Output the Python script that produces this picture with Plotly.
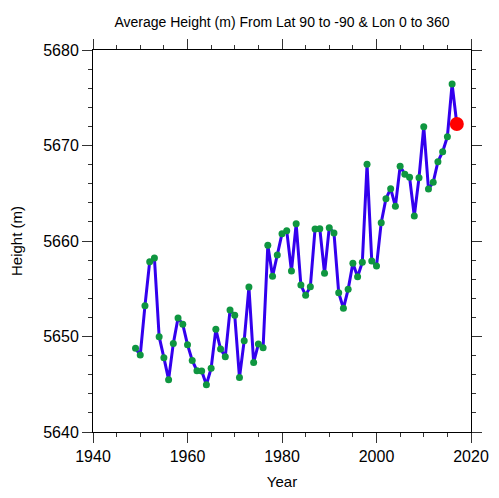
import plotly.graph_objects as go

years = list(range(1949, 2018))
heights = [
    5648.76, 5648.06, 5653.23, 5657.84, 5658.22, 5649.98, 5647.78, 5645.48, 5649.28, 5651.94,
    5651.27, 5649.14, 5647.50, 5646.42, 5646.39, 5644.95, 5646.67, 5650.75, 5648.69, 5647.89,
    5652.77, 5652.22, 5645.70, 5649.56, 5655.18, 5647.29, 5649.21, 5648.83, 5659.55, 5656.30,
    5658.53, 5660.77, 5661.08, 5656.86, 5661.80, 5655.39, 5654.31, 5655.22, 5661.26, 5661.29,
    5656.62, 5661.40, 5660.84, 5654.59, 5652.95, 5654.94, 5657.68, 5656.26, 5657.77, 5668.03,
    5657.91, 5657.38, 5661.92, 5664.43, 5665.48, 5663.63, 5667.82, 5667.00, 5666.68, 5662.62,
    5666.63, 5671.97, 5665.45, 5666.15, 5668.31, 5669.35, 5670.92, 5676.44, 5672.25,
]

title_text = "Average Height (m) From Lat 90 to -90 & Lon 0 to 360"
x_title = "Year"
y_title = "Height (m)"
x_ticks = [1940, 1960, 1980, 2000, 2020]
y_ticks = [5640, 5650, 5660, 5670, 5680]

font = "Liberation Sans, Arial, Helvetica, sans-serif"

fig = go.Figure()
fig.add_trace(go.Scatter(
    x=years, y=heights, mode="lines+markers",
    line=dict(color="#3300ee", width=3),
    marker=dict(color="#0f9640", size=7),
    showlegend=False,
))
fig.add_trace(go.Scatter(
    x=[years[-1]], y=[heights[-1]], mode="markers",
    marker=dict(color="#ff0000", size=14),
    showlegend=False,
))

axis_common = dict(
    showgrid=False, zeroline=False, showline=True, linecolor="black", linewidth=1,
    mirror="ticks", ticks="outside", ticklen=10, tickwidth=1, tickcolor="#333333",
    tickfont=dict(family=font, size=16, color="black"), automargin=False,
)

fig.update_xaxes(
    range=[1940, 2020], tickvals=x_ticks, ticktext=[str(v) for v in x_ticks],
    title=dict(text=x_title, font=dict(family=font, size=15, color="black"), standoff=12),
    minor=dict(dtick=5, tick0=1940, ticks="outside", ticklen=4, tickcolor="#333333"),
    **axis_common,
)
fig.update_yaxes(
    range=[5640, 5680], tickvals=y_ticks, ticktext=[str(v) for v in y_ticks],
    title=dict(text=y_title, font=dict(family=font, size=15, color="black"), standoff=18),
    minor=dict(dtick=2, tick0=5640, ticks="outside", ticklen=4, tickcolor="#333333"),
    **axis_common,
)

fig.update_layout(
    width=491, height=490,
    margin=dict(l=85, r=28, t=42, b=66),
    paper_bgcolor="white", plot_bgcolor="white",
    title=dict(text=title_text, x=0.5, xref="paper", y=0.971, yref="container",
               xanchor="center", yanchor="middle", automargin=False,
               font=dict(family=font, size=14, color="black")),
)

fig.write_html("out.html")
